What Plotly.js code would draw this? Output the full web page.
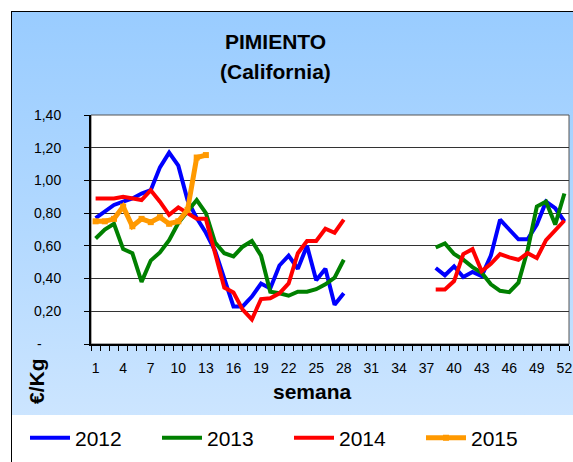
<!DOCTYPE html>
<html>
<head>
<meta charset="utf-8">
<script src="https://cdn.plot.ly/plotly-3.0.1.min.js"></script>
<style>
  html, body { margin: 0; padding: 0; background: #ffffff; }
  #wrap { position: relative; width: 573px; height: 462px; overflow: hidden; background: #ffffff; }
  #bluebox { position: absolute; left: 11px; top: 11px; width: 620px; height: 403px;
             background: linear-gradient(to bottom, #99CCFF 0%, #B3D9FF 55%, #CCE5FF 100%);
             border-left: 1px solid #000; border-top: 1px solid #000; border-bottom: 1px solid #555; }
  #legbox { position: absolute; left: 11px; top: 415px; width: 620px; height: 60px; border-left: 1px solid #000; background: #fff; }
  #chart { position: absolute; left: 0; top: 0; width: 573px; height: 462px; }
</style>
</head>
<body>
<div id="wrap">
  <div id="bluebox"></div>
  <div id="legbox"></div>
  <div id="chart"></div>
</div>
<script>
const weeks = [1,2,3,4,5,6,7,8,9,10,11,12,13,14,15,16,17,18,19,20,21,22,23,24,25,26,27,28,29,30,31,32,33,34,35,36,37,38,39,40,41,42,43,44,45,46,47,48,49,50,51,52];

const s2012 = [0.77,0.81,0.85,0.87,0.89,0.92,0.94,1.08,1.17,1.09,0.88,0.77,0.68,0.57,0.39,0.23,0.23,0.29,0.37,0.34,0.48,0.54,0.46,0.60,0.39,0.46,0.24,0.31,
  null,null,null,null,null,null,null,null,null,
  0.465,0.42,0.475,0.41,0.44,0.415,0.54,0.76,0.70,0.64,0.64,0.73,0.87,0.83,0.75];

const s2013 = [0.645,0.70,0.735,0.58,0.555,0.38,0.51,0.56,0.635,0.74,0.81,0.88,0.80,0.62,0.555,0.535,0.595,0.63,0.54,0.32,0.31,0.295,0.32,0.32,0.335,0.365,0.405,0.515,
  null,null,null,null,null,null,null,null,null,
  0.59,0.615,0.55,0.515,0.47,0.435,0.365,0.325,0.317,0.375,0.575,0.84,0.87,0.73,0.92];

const s2014 = [0.89,0.89,0.89,0.90,0.89,0.88,0.94,0.87,0.79,0.835,0.80,0.765,0.765,0.56,0.345,0.315,0.21,0.15,0.275,0.28,0.31,0.37,0.555,0.63,0.63,0.705,0.68,0.76,
  null,null,null,null,null,null,null,null,null,
  0.333,0.333,0.385,0.55,0.58,0.445,0.49,0.55,0.53,0.515,0.555,0.525,0.635,0.695,0.755];

const s2015 = [0.75,0.75,0.765,0.84,0.72,0.765,0.745,0.775,0.735,0.75,0.82,1.14,1.155];

const yTickVals = [0,0.2,0.4,0.6,0.8,1.0,1.2,1.4];
const yTickText = ['-\u00a0\u00a0\u00a0\u00a0\u00a0','0,20','0,40','0,60','0,80','1,00','1,20','1,40'];
const xTickVals = [1,4,7,10,13,16,19,22,25,28,31,34,37,40,43,46,49,52];
const seriesNames = ['2012','2013','2014','2015'];
const seriesColors = ['#0000FF','#008000','#FF0000','#FF9900'];

const FONT = 'Liberation Sans, Arial, sans-serif';

const traces = [
  {x: weeks, y: s2012, name: seriesNames[0], legend: 'legend', mode: 'lines', line: {color: seriesColors[0], width: 4}, connectgaps: false},
  {x: weeks, y: s2013, name: seriesNames[1], legend: 'legend2', mode: 'lines', line: {color: seriesColors[1], width: 4}, connectgaps: false},
  {x: weeks, y: s2014, name: seriesNames[2], legend: 'legend3', mode: 'lines', line: {color: seriesColors[2], width: 4}, connectgaps: false},
  {x: weeks.slice(0, s2015.length), y: s2015, name: seriesNames[3], legend: 'legend4', mode: 'lines+markers',
   line: {color: seriesColors[3], width: 5}, marker: {color: seriesColors[3], symbol: 'square', size: 6}}
];

function leg(xpx) {
  return {
    orientation: 'h', xref: 'container', yref: 'container',
    x: xpx / 573, y: (462 - 438) / 462, xanchor: 'left', yanchor: 'middle',
    bgcolor: 'rgba(0,0,0,0)', font: {family: FONT, size: 21, color: '#000'},
    itemwidth: 40
  };
}

const layout = {
  width: 573, height: 462,
  margin: {l: 91, r: 4, t: 115, b: 118},
  paper_bgcolor: 'rgba(0,0,0,0)',
  plot_bgcolor: '#ffffff',
  font: {family: FONT, color: '#000', size: 14},
  showlegend: true,
  legend: leg(25),
  legend2: leg(157),
  legend3: leg(289),
  legend4: leg(421),
  xaxis: {
    range: [0.5, 52.5], tickmode: 'array', tickvals: xTickVals,
    ticks: '', showgrid: false, zeroline: false,
    showline: true, linecolor: '#000', linewidth: 2,
    tickfont: {family: FONT, size: 14, color: '#000'},
    ticklabelstandoff: 10,
    minor: {tick0: 0.5, dtick: 1, ticks: 'outside', ticklen: 5, tickcolor: '#000', tickwidth: 1, showgrid: false},
    fixedrange: true
  },
  yaxis: {
    range: [0, 1.4], tickmode: 'array', tickvals: yTickVals, ticktext: yTickText,
    ticks: 'outside', ticklen: 5, tickcolor: '#000', tickwidth: 1,
    showgrid: true, gridcolor: '#333', gridwidth: 1, zeroline: false,
    showline: true, linecolor: '#000', linewidth: 2,
    tickfont: {family: FONT, size: 14, color: '#000'},
    ticklabelstandoff: 20,
    fixedrange: true
  },
  shapes: [
    {type: 'rect', xref: 'paper', yref: 'paper', x0: 0, x1: 1, y0: 0, y1: 1,
     line: {color: '#555', width: 1}, fillcolor: 'rgba(0,0,0,0)', layer: 'below'}
  ],
  annotations: [
    {text: '<b>PIMIENTO</b>', xref: 'paper', yref: 'paper', x: 0.387, y: 1.319,
     showarrow: false, font: {family: FONT, size: 21, color: '#000'}, xanchor: 'center', yanchor: 'middle'},
    {text: '<b>(California)</b>', xref: 'paper', yref: 'paper', x: 0.387, y: 1.188,
     showarrow: false, font: {family: FONT, size: 21, color: '#000'}, xanchor: 'center', yanchor: 'middle'},
    {text: '<b>semana</b>', xref: 'paper', yref: 'paper', x: 0.464, y: -0.2096,
     showarrow: false, font: {family: FONT, size: 21, color: '#000'}, xanchor: 'center', yanchor: 'middle'},
    {text: '<b>€/Kg</b>', xref: 'paper', yref: 'paper', x: -0.115, y: -0.1616, textangle: -90,
     showarrow: false, font: {family: FONT, size: 21, color: '#000'}, xanchor: 'center', yanchor: 'middle'}
  ]
};

Plotly.newPlot('chart', traces, layout, {displayModeBar: false, staticPlot: true});
</script>
</body>
</html>
